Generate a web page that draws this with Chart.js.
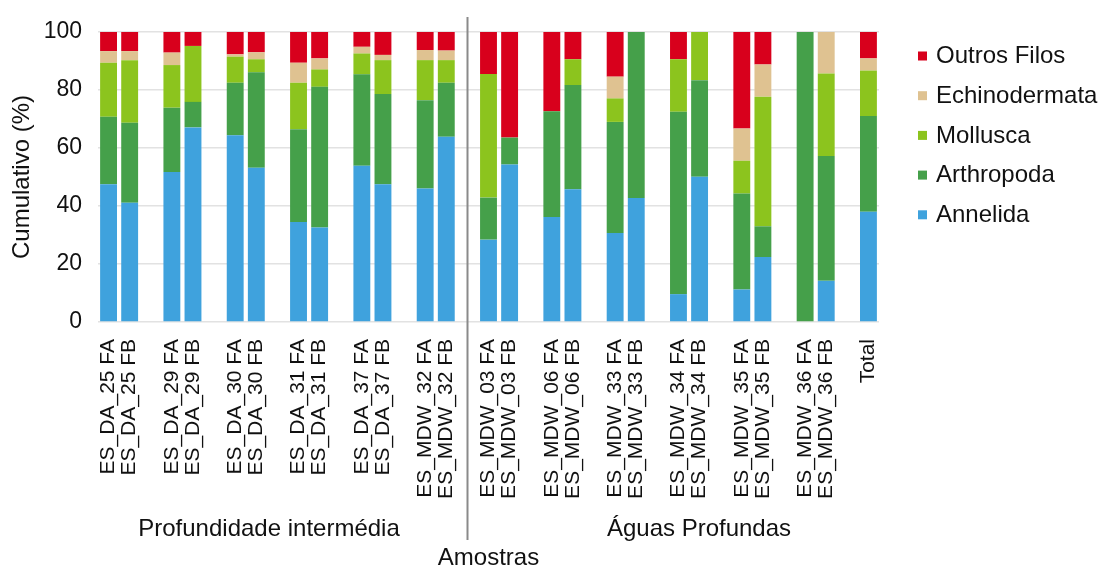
<!DOCTYPE html>
<html>
<head>
<meta charset="utf-8">
<script src="https://cdn.jsdelivr.net/npm/chart.js@4/dist/chart.umd.min.js"></script>
<style>
  html, body { margin: 0; padding: 0; background: #fff; }
  #wrap { width: 1103px; height: 568px; }
</style>
</head>
<body>
<div id="wrap"><canvas id="chart" width="1103" height="568"></canvas></div>
<script>
// samples, in pairs (FA / FB), then the overall total
const samples = [
  'ES_DA_25 FA', 'ES_DA_25 FB', 'ES_DA_29 FA', 'ES_DA_29 FB',
  'ES_DA_30 FA', 'ES_DA_30 FB', 'ES_DA_31 FA', 'ES_DA_31 FB',
  'ES_DA_37 FA', 'ES_DA_37 FB', 'ES_MDW_32 FA', 'ES_MDW_32 FB',
  'ES_MDW_03 FA', 'ES_MDW_03 FB', 'ES_MDW_06 FA', 'ES_MDW_06 FB',
  'ES_MDW_33 FA', 'ES_MDW_33 FB', 'ES_MDW_34 FA', 'ES_MDW_34 FB',
  'ES_MDW_35 FA', 'ES_MDW_35 FB', 'ES_MDW_36 FA', 'ES_MDW_36 FB',
  'Total'
];

// share of each phylum per sample (%)
const annelida      = [47.5, 41.1, 51.7, 67.1, 64.4, 53.2, 34.5, 32.6, 53.9, 47.5, 46.0, 63.9,
                       28.4, 54.3, 36.2, 45.8, 30.7, 42.8,  9.6, 50.1, 11.2, 22.4,  0.0, 14.2, 38.0];
const arthropoda    = [23.3, 27.6, 22.2,  8.8, 18.1, 32.9, 32.0, 48.5, 31.5, 31.1, 30.5, 18.6,
                       14.5,  9.3, 36.5, 35.9, 38.3, 57.2, 62.9, 33.3, 33.1, 10.6, 100.0, 43.0, 33.0];
const mollusca      = [18.6, 21.6, 14.7, 19.3,  9.0,  4.5, 16.0,  6.0,  7.2, 11.7, 13.8,  7.8,
                       42.6,  0.0,  0.0,  8.9,  8.1,  0.0, 18.1, 16.6, 11.3, 44.7,  0.0, 28.5, 15.7];
const echinodermata = [ 4.0,  3.1,  4.3,  0.0,  0.8,  2.4,  6.9,  3.8,  2.3,  1.8,  3.5,  3.3,
                        0.0,  0.0,  0.0,  0.0,  7.5,  0.0,  0.0,  0.0, 11.1, 11.1,  0.0, 14.3,  4.2];
const outros        = [ 6.6,  6.6,  7.1,  4.8,  7.7,  7.0, 10.6,  9.1,  5.1,  7.9,  6.2,  6.4,
                       14.5, 36.4, 27.3,  9.4, 15.4,  0.0,  9.4,  0.0, 33.3, 11.2,  0.0,  0.0,  9.1];

const yTicks = [0, 20, 40, 60, 80, 100];
const groups = ['Profundidade intermédia', 'Águas Profundas'];

const FONT = "'Liberation Sans', Arial, sans-serif";

// spread the pairs out: an empty slot after every pair
function spread(arr) {
  const out = [];
  arr.forEach((v, i) => {
    out.push(v);
    if (i % 2 === 1 && i < arr.length - 1) out.push(null);
  });
  return out;
}
const labels = spread(samples).map(s => s === null ? '' : s);
const dividerSlot = labels.indexOf('ES_MDW_03 FA') - 1;

const series = [
  { label: 'Annelida', data: annelida, color: '#3fa2dd' },
  { label: 'Arthropoda', data: arthropoda, color: '#45a04a' },
  { label: 'Mollusca', data: mollusca, color: '#8cc41e' },
  { label: 'Echinodermata', data: echinodermata, color: '#dfc291' },
  { label: 'Outros Filos', data: outros, color: '#d8001c' }
];

// group captions, divider line and the legend on the right
const extras = {
  id: 'extras',
  afterDraw(chart) {
    const { ctx } = chart;
    const x = chart.scales.x;
    ctx.save();

    const xd = Math.round(x.getPixelForValue(dividerSlot)) + 0.5;
    ctx.strokeStyle = '#8a8a8a';
    ctx.lineWidth = 2;
    ctx.beginPath();
    ctx.moveTo(xd, 17);
    ctx.lineTo(xd, 540);
    ctx.stroke();

    ctx.fillStyle = '#111';
    ctx.font = '24px ' + FONT;
    ctx.textAlign = 'center';
    ctx.textBaseline = 'alphabetic';
    ctx.fillText(groups[0], 269, 536);
    ctx.fillText(groups[1], 699, 536);

    ctx.textAlign = 'left';
    ctx.textBaseline = 'middle';
    const sets = chart.data.datasets.slice().reverse();
    sets.forEach((ds, i) => {
      const y = 55.5 + i * 39.7;
      ctx.fillStyle = ds.backgroundColor;
      ctx.fillRect(918, y - 4, 9, 9);
      ctx.fillStyle = '#111';
      ctx.fillText(ds.label, 936, y + 1);
    });
    ctx.restore();
  }
};

new Chart(document.getElementById('chart'), {
  type: 'bar',
  data: {
    labels: labels,
    datasets: series.map(s => ({
      label: s.label,
      data: spread(s.data),
      backgroundColor: s.color,
      borderWidth: 0,
      barPercentage: 0.8,
      categoryPercentage: 1.0
    }))
  },
  options: {
    responsive: false,
    animation: false,
    devicePixelRatio: 1,
    layout: { padding: { left: 0, top: 32, right: 224, bottom: 0 } },
    plugins: {
      legend: { display: false },
      tooltip: { enabled: false }
    },
    scales: {
      x: {
        stacked: true,
        grid: { display: false },
        border: { display: false },
        ticks: {
          autoSkip: false,
          minRotation: 90,
          maxRotation: 90,
          padding: 9,
          color: '#111',
          font: { family: FONT, size: 21 }
        },
        title: {
          display: true,
          text: 'Amostras',
          color: '#111',
          font: { family: FONT, size: 24, lineHeight: 0.8 },
          padding: { top: 0, bottom: 0 }
        },
        afterFit(scale) { scale.height = 246; }
      },
      y: {
        stacked: true,
        min: 0,
        max: 100,
        grid: { color: '#e2e2e2', lineWidth: 1.5, drawTicks: false },
        border: { display: false },
        afterBuildTicks(scale) { scale.ticks = yTicks.map(v => ({ value: v })); },
        ticks: {
          padding: 16,
          color: '#111',
          font: { family: FONT, size: 23 }
        },
        title: {
          display: true,
          text: 'Cumulativo (%)',
          color: '#111',
          font: { family: FONT, size: 24 },
          padding: { top: 8, bottom: 0 }
        },
        afterFit(scale) { scale.width = 98; }
      }
    }
  },
  plugins: [extras]
});
</script>
</body>
</html>
